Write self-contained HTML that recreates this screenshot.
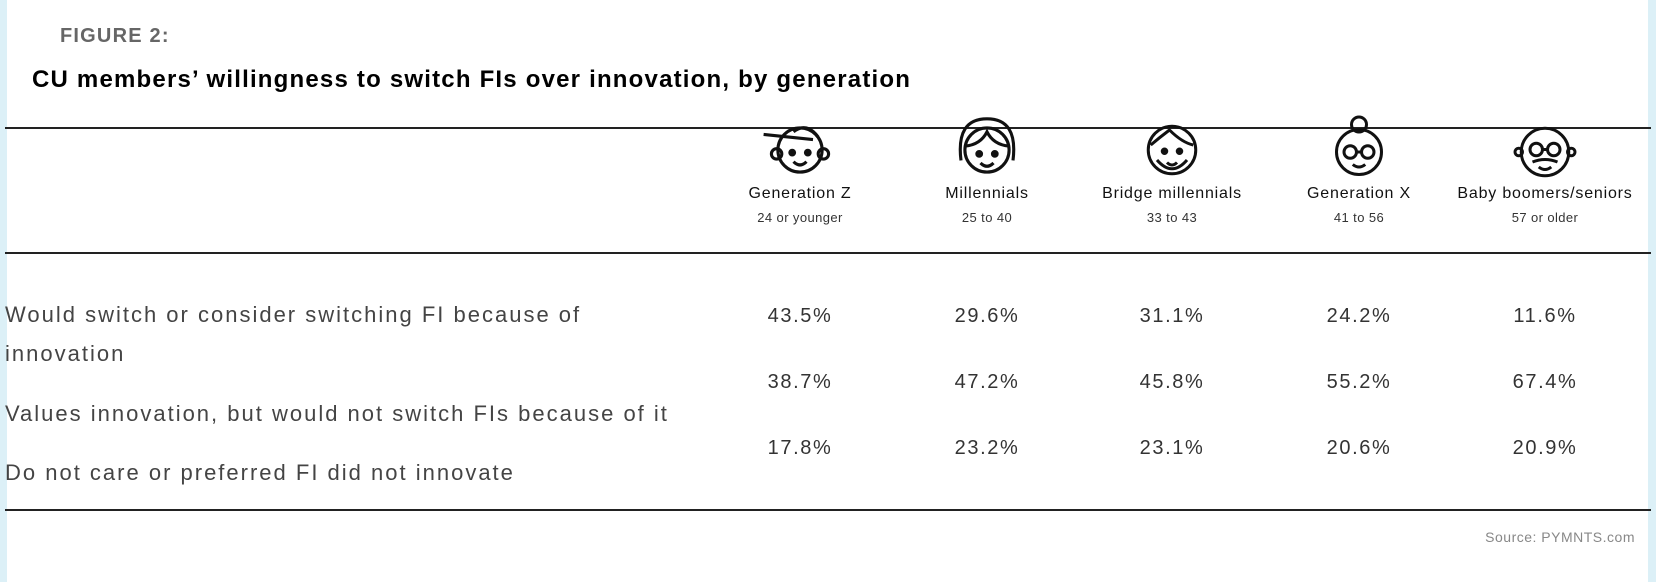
<!DOCTYPE html>
<html><head><meta charset="utf-8"><style>
html,body{margin:0;padding:0;background:#fff}
body{width:1656px;height:582px;position:relative;overflow:hidden;font-family:"Liberation Sans",sans-serif}
.bl{position:absolute;top:0;bottom:0;width:7px;background:#dcf0f7}
.t{position:absolute;white-space:nowrap}
.line{position:absolute;left:5px;width:1646px;height:2px;background:#222}
.c{position:absolute;transform:translateX(-50%);white-space:nowrap;text-align:center}
.h{font-size:16px;color:#111;letter-spacing:0.8px}
.a{font-size:13px;color:#333;letter-spacing:0.4px}
.v{font-size:20px;color:#333;letter-spacing:1.6px}
.lbl{position:absolute;left:5px;font-size:22px;color:#444;white-space:nowrap;letter-spacing:2px}
</style></head><body>
<div class="bl" style="left:0"></div>
<div class="bl" style="right:0;width:8px"></div>
<div class="t" style="left:60px;top:25px;font-size:20px;font-weight:bold;color:#666;letter-spacing:1.2px">FIGURE 2:</div>
<div class="t" style="left:32px;top:66px;font-size:24px;font-weight:bold;color:#000;letter-spacing:1.2px">CU members’ willingness to switch FIs over innovation, by generation</div>
<div class="line" style="top:127px"></div>
<div class="line" style="top:252px"></div>
<div class="line" style="top:509px"></div>

<svg style="position:absolute;left:0;top:0" width="1656" height="260" fill="none" stroke="#111" stroke-width="2.4">
<g transform="translate(800,150) scale(1.3)"><circle r="17"/><circle cx="-18" cy="3" r="4"/><circle cx="18" cy="3" r="4"/><path d="M-28,-12 L10,-8 M-5,-14 Q5,-22 14,-10"/><circle cx="-6" cy="2" r="1.8" fill="#111"/><circle cx="6" cy="2" r="1.8" fill="#111"/><path d="M-5,9 Q0,14 5,9"/></g>
<g transform="translate(987,150) scale(1.3)"><circle r="17"/><path d="M-20,8 Q-24,-24 0,-24 Q24,-24 20,8 M-17,-3 Q-5,-4 0,-14 Q5,-4 17,-3"/><circle cx="-6" cy="3" r="1.8" fill="#111"/><circle cx="6" cy="3" r="1.8" fill="#111"/><path d="M-5,10 Q0,15 5,10"/></g>
<g transform="translate(1172,150) scale(1.25)"><circle r="19"/><path d="M-17,-4 Q-10,-10 -2,-16 Q8,-6 17,-4 M-12,8 Q0,22 12,8"/><circle cx="-6" cy="1" r="1.8" fill="#111"/><circle cx="6" cy="1" r="1.8" fill="#111"/><path d="M-4,10 Q0,14 4,10"/></g>
<g transform="translate(1359,152) scale(1.25)"><circle r="18"/><circle cx="0" cy="-22" r="6"/><circle cx="-7" cy="0" r="5"/><circle cx="7" cy="0" r="5"/><path d="M-2,0 L2,0 M-5,10 Q0,14 5,10"/></g>
<g transform="translate(1545,152) scale(1.25)"><circle r="19"/><circle cx="-7" cy="-2" r="5"/><circle cx="7" cy="-2" r="5"/><path d="M-2,-2 L2,-2 M-10,8 Q0,4 10,8 M-5,12 Q0,16 5,12"/><circle cx="-21" cy="0" r="3"/><circle cx="21" cy="0" r="3"/></g>
</svg>

<div class="c h" style="left:800px;top:185px">Generation Z</div>
<div class="c h" style="left:987px;top:185px">Millennials</div>
<div class="c h" style="left:1172px;top:185px">Bridge millennials</div>
<div class="c h" style="left:1359px;top:185px">Generation X</div>
<div class="c h" style="left:1545px;top:185px">Baby boomers/seniors</div>
<div class="c a" style="left:800px;top:210px">24 or younger</div>
<div class="c a" style="left:987px;top:210px">25 to 40</div>
<div class="c a" style="left:1172px;top:210px">33 to 43</div>
<div class="c a" style="left:1359px;top:210px">41 to 56</div>
<div class="c a" style="left:1545px;top:210px">57 or older</div>

<div class="lbl" style="top:302px">Would switch or consider switching FI because of</div>
<div class="lbl" style="top:341px">innovation</div>
<div class="lbl" style="top:401px">Values innovation, but would not switch FIs because of it</div>
<div class="lbl" style="top:460px">Do not care or preferred FI did not innovate</div>

<div class="c v" style="left:800px;top:305px">43.5%</div>
<div class="c v" style="left:987px;top:305px">29.6%</div>
<div class="c v" style="left:1172px;top:305px">31.1%</div>
<div class="c v" style="left:1359px;top:305px">24.2%</div>
<div class="c v" style="left:1545px;top:305px">11.6%</div>
<div class="c v" style="left:800px;top:371px">38.7%</div>
<div class="c v" style="left:987px;top:371px">47.2%</div>
<div class="c v" style="left:1172px;top:371px">45.8%</div>
<div class="c v" style="left:1359px;top:371px">55.2%</div>
<div class="c v" style="left:1545px;top:371px">67.4%</div>
<div class="c v" style="left:800px;top:437px">17.8%</div>
<div class="c v" style="left:987px;top:437px">23.2%</div>
<div class="c v" style="left:1172px;top:437px">23.1%</div>
<div class="c v" style="left:1359px;top:437px">20.6%</div>
<div class="c v" style="left:1545px;top:437px">20.9%</div>

<div class="t" style="right:21px;top:529px;font-size:14px;color:#888;letter-spacing:0.5px">Source: PYMNTS.com</div>
</body></html>
